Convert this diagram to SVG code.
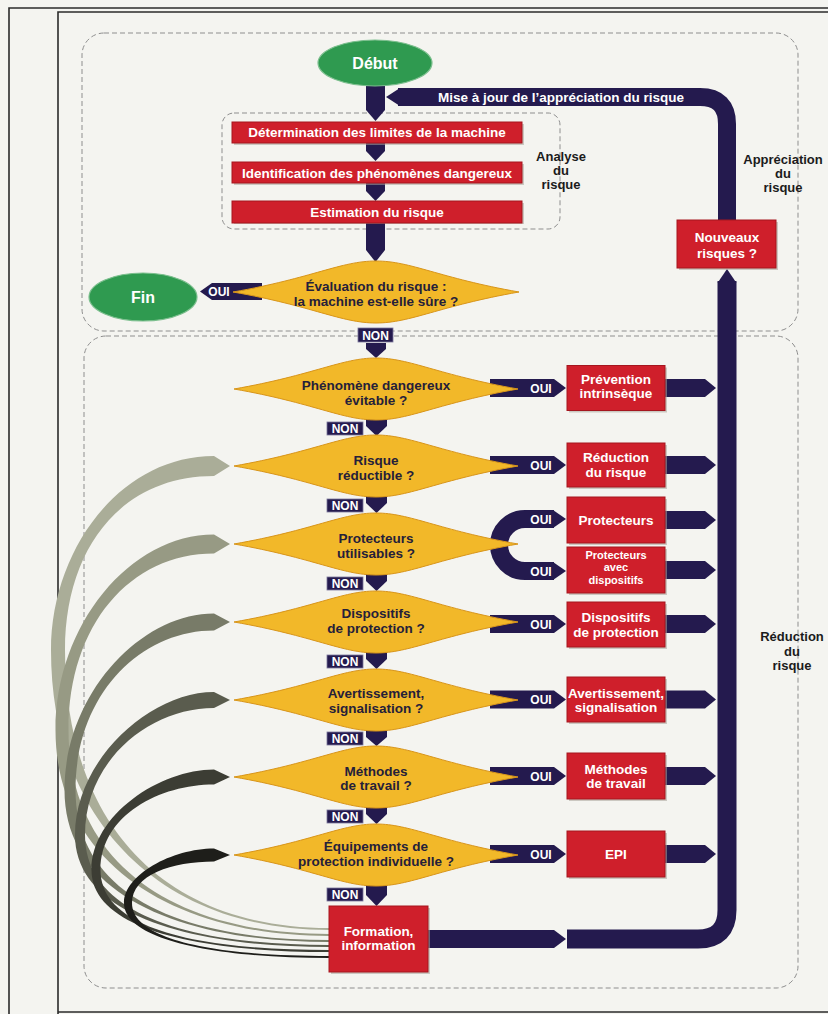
<svg xmlns="http://www.w3.org/2000/svg" width="828" height="1014" viewBox="0 0 828 1014">
<defs>
<style>
.bg{fill:#f4f4f0}
.frame{fill:none;stroke:#2b2b2b;stroke-width:1.6}
.dash{fill:none;stroke:#8e8e8e;stroke-width:1;stroke-dasharray:5 3}
.nv{fill:#241a4e}
.nvs{fill:none;stroke:#241a4e}
.rb{fill:#cf1f2b;stroke:#a5161f;stroke-width:1}
.sh{fill:#aaa49a;opacity:.55}
.dm{fill:#f2b829;stroke:#d8951b;stroke-width:1}
.gr{fill:#2f9a50;stroke:#7cbf8e;stroke-width:1.2}
.nonb{fill:#241a4e;stroke:#7c779c;stroke-width:.8}
text{font-family:"Liberation Sans",Arial,sans-serif;font-weight:bold;text-anchor:middle}
.tw{fill:#fff;font-size:13.5px}
.tw3{fill:#fff;font-size:11px}
.td{fill:#25203a;font-size:13.5px}
.tl{fill:#1b1b1b;font-size:13px}
.ts{fill:#fff;font-size:12px}
.tg{fill:#fff;font-size:16px}
</style>
</defs>
<rect class="bg" x="0" y="0" width="828" height="1014"/>
<path class="frame" d="M9,1014 V8 H828"/>
<path class="frame" d="M58,1014 V12 H828 M58,1012 H828"/>

<g id="zones">
<rect class="dash" x="82" y="33" width="716" height="298" rx="22"/>
<rect class="dash" x="84" y="336" width="714" height="652" rx="22"/>
<rect class="dash" x="222" y="113" width="338" height="116" rx="12"/>
<text class="tl" x="561" y="161">Analyse</text>
<text class="tl" x="561" y="175">du</text>
<text class="tl" x="561" y="189">risque</text>
<text class="tl" x="783" y="164">Appréciation</text>
<text class="tl" x="783" y="178">du</text>
<text class="tl" x="783" y="192">risque</text>
<text class="tl" x="792" y="641">Réduction</text>
<text class="tl" x="792" y="656">du</text>
<text class="tl" x="792" y="670">risque</text>
</g>

<g id="connectors">
<!-- return ribbons -->
<path fill="#aaad98" d="M214,456 C120,456 51,550 51,650 C51,820 160,930 329,930 L329,928 C160,928 65,820 65,650 C65,550 120,476 214,476 L230,466 Z"/>
<path fill="#979a84" d="M214,534.5 C130,534.5 55.5,625 55.5,730 C55.5,860 170,936 329,936 L329,934 C170,934 68.5,860 68.5,730 C68.5,625 130,553.5 214,553.5 L230,544 Z"/>
<path fill="#787b68" d="M214,613.5 C140,613.5 64.5,695 64.5,790 C64.5,895 180,942 329,942 L329,940 C180,940 75.5,895 75.5,790 C75.5,695 140,630.5 214,630.5 L230,622 Z"/>
<path fill="#5a5c4e" d="M214,692 C150,692 75,760 75,835 C75,915 190,947 329,947 L329,945 C190,945 85,915 85,835 C85,760 150,708 214,708 L230,700 Z"/>
<path fill="#3c3d34" d="M214,769.5 C160,769.5 91.5,815 91.5,870 C91.5,930 200,952 329,952 L329,950 C200,950 100.5,930 100.5,870 C100.5,815 160,784.5 214,784.5 L230,777 Z"/>
<path fill="#1e1e1a" d="M214,848.5 C172,848.5 124,875 124,903 C124,940 215,958 329,958 L329,956 C215,956 132,940 132,903 C132,875 172,861.5 214,861.5 L230,855 Z"/>

<!-- main flow -->
<path class="nv" d="M366,84 H385 V110 L375.5,121 L366,110 Z"/>
<path class="nv" d="M366,143 H385 V151 L375.5,161 L366,151 Z"/>
<path class="nv" d="M366,183 H385 V191 L375.5,201 L366,191 Z"/>
<path class="nv" d="M366,223 H385 V250 L375.5,262 L366,250 Z"/>
<path class="nv" d="M366,343 H386 V349 L376,358 L366,349 Z"/>
<path class="nv" d="M366,419 H387 V426 L376.5,436 L366,426 Z"/>
<path class="nv" d="M366,496 H387 V503 L376.5,513 L366,503 Z"/>
<path class="nv" d="M366,574 H387 V581 L376.5,591 L366,581 Z"/>
<path class="nv" d="M366,652 H387 V659 L376.5,669 L366,659 Z"/>
<path class="nv" d="M366,730 H387 V737 L376.5,746 L366,737 Z"/>
<path class="nv" d="M366,807 H387 V814 L376.5,824 L366,814 Z"/>
<path class="nv" d="M366,885 H387 V895 L376.5,906 L366,895 Z"/>

<!-- update loop -->
<path class="nvs" stroke-width="18" d="M398,97 H700 Q727,97 727,124 V221"/>
<path class="nv" d="M400,88 L386,97 L400,106 Z"/>
<path class="nvs" stroke-width="19" d="M727,281 V910 Q727,939 698,939 H567"/>
<path class="nv" d="M717.5,283 L727,269 L736.5,283 Z"/>
<path class="nv" d="M428,930 H554 L566,939 L554,948 H428 Z"/>
<text class="tw" x="561" y="101.5">Mise à jour de l’appréciation du risque</text>

<!-- OUI to Fin -->
<path class="nv" d="M262,283 H212 L200,291.5 L212,300 H262 Z"/>

<!-- OUI bars -->
<path class="nv" d="M490,379 H554 L566,388 L554,397 H490 Z"/>
<path class="nv" d="M490,456 H554 L566,465 L554,474 H490 Z"/>
<path class="nvs" stroke-width="18" d="M554,519 H525 A26,26 0 0 0 525,571 H554"/>
<path class="nv" d="M553,510 L566,519 L553,528 Z"/>
<path class="nv" d="M553,562 L566,571 L553,580 Z"/>
<path class="nv" d="M490,615 H554 L566,624 L554,633 H490 Z"/>
<path class="nv" d="M490,690.5 H554 L566,699.5 L554,708.5 H490 Z"/>
<path class="nv" d="M490,767 H554 L566,776 L554,785 H490 Z"/>
<path class="nv" d="M490,845 H554 L566,854 L554,863 H490 Z"/>

<!-- box to loop bar -->
<path class="nv" d="M664,379 H705 L716,388 L705,397 H664 Z"/>
<path class="nv" d="M664,456 H705 L716,465 L705,474 H664 Z"/>
<path class="nv" d="M664,511 H705 L716,520 L705,529 H664 Z"/>
<path class="nv" d="M664,561 H705 L716,570 L705,579 H664 Z"/>
<path class="nv" d="M664,615 H705 L716,624 L705,633 H664 Z"/>
<path class="nv" d="M664,690.5 H705 L716,699.5 L705,708.5 H664 Z"/>
<path class="nv" d="M664,767 H705 L716,776 L705,785 H664 Z"/>
<path class="nv" d="M664,845 H705 L716,854 L705,863 H664 Z"/>
</g>

<g id="n-debut">
<ellipse class="gr" cx="375" cy="63" rx="57" ry="23"/>
<text class="tg" x="375" y="68.5">Début</text>
</g>
<g id="n-fin">
<ellipse class="gr" cx="143" cy="297" rx="54" ry="24"/>
<text class="tg" x="143" y="302.5">Fin</text>
</g>

<g id="n-determination">
<rect class="sh" x="234" y="124" width="290" height="21"/>
<rect class="rb" x="232" y="122" width="290" height="21"/>
<text class="tw" x="377" y="137">Détermination des limites de la machine</text>
</g>
<g id="n-identification">
<rect class="sh" x="234" y="164" width="290" height="21"/>
<rect class="rb" x="232" y="162" width="290" height="21"/>
<text class="tw" x="377" y="177.5">Identification des phénomènes dangereux</text>
</g>
<g id="n-estimation">
<rect class="sh" x="234" y="203" width="290" height="21"/>
<rect class="rb" x="232" y="201" width="290" height="22"/>
<text class="tw" x="377" y="216.5">Estimation du risque</text>
</g>

<g id="n-evaluation">
<path class="dm" d="M233,292 C313,278 341,261 376,261 C411,261 439,278 519,292 C439,306 411,323 376,323 C341,323 313,306 233,292 Z"/>
<text class="td" x="376" y="291">Évaluation du risque :</text>
<text class="td" x="376" y="305.5">la machine est-elle sûre ?</text>
<rect class="nonb" x="358" y="328" width="35" height="14"/>
<text class="ts" x="375.5" y="339.5">NON</text>
<text class="ts" x="219" y="296">OUI</text>
</g>

<g id="n-nouveaux">
<rect class="sh" x="679" y="222" width="99" height="48"/>
<rect class="rb" x="677" y="220" width="99" height="48"/>
<text class="tw" x="727" y="241.5">Nouveaux</text>
<text class="tw" x="727" y="257.5">risques ?</text>
</g>

<g id="n-phenomene">
<path class="dm" d="M234,389 C314,375 342,358 376,358 C410,358 438,375 518,389 C438,403 410,420 376,420 C342,420 314,403 234,389 Z"/>
<text class="td" x="376" y="389.5">Phénomène dangereux</text>
<text class="td" x="376" y="404.5">évitable ?</text>
<rect class="nonb" x="327" y="422" width="36" height="13"/>
<text class="ts" x="345" y="432.5">NON</text>
<text class="ts" x="541" y="392.5">OUI</text>
</g>
<g id="n-risque">
<path class="dm" d="M234,466 C314,452 342,435 376,435 C410,435 438,452 518,466 C438,480 410,497 376,497 C342,497 314,480 234,466 Z"/>
<text class="td" x="376" y="464.5">Risque</text>
<text class="td" x="376" y="479.5">réductible ?</text>
<rect class="nonb" x="327" y="499" width="36" height="13"/>
<text class="ts" x="345" y="509.5">NON</text>
<text class="ts" x="541" y="469.5">OUI</text>
</g>
<g id="n-protecteurs-q">
<path class="dm" d="M234,544 C314,530 342,513 376,513 C410,513 438,530 518,544 C438,558 410,575 376,575 C342,575 314,558 234,544 Z"/>
<text class="td" x="376" y="542.5">Protecteurs</text>
<text class="td" x="376" y="557.5">utilisables ?</text>
<rect class="nonb" x="327" y="577" width="36" height="13"/>
<text class="ts" x="345" y="587.5">NON</text>
<text class="ts" x="541" y="523.5">OUI</text>
<text class="ts" x="541" y="575.5">OUI</text>
</g>
<g id="n-dispositifs-q">
<path class="dm" d="M234,622 C314,608 342,591 376,591 C410,591 438,608 518,622 C438,636 410,653 376,653 C342,653 314,636 234,622 Z"/>
<text class="td" x="376" y="617.5">Dispositifs</text>
<text class="td" x="376" y="632.5">de protection ?</text>
<rect class="nonb" x="327" y="655" width="36" height="13"/>
<text class="ts" x="345" y="665.5">NON</text>
<text class="ts" x="541" y="628.5">OUI</text>
</g>
<g id="n-avertissement-q">
<path class="dm" d="M234,700 C314,686 342,669 376,669 C410,669 438,686 518,700 C438,714 410,731 376,731 C342,731 314,714 234,700 Z"/>
<text class="td" x="376" y="697.5">Avertissement,</text>
<text class="td" x="376" y="712.5">signalisation ?</text>
<rect class="nonb" x="327" y="732" width="36" height="13"/>
<text class="ts" x="345" y="742.5">NON</text>
<text class="ts" x="541" y="704">OUI</text>
</g>
<g id="n-methodes-q">
<path class="dm" d="M234,777 C314,763 342,746 376,746 C410,746 438,763 518,777 C438,791 410,808 376,808 C342,808 314,791 234,777 Z"/>
<text class="td" x="376" y="775.5">Méthodes</text>
<text class="td" x="376" y="790">de travail ?</text>
<rect class="nonb" x="327" y="810" width="36" height="13"/>
<text class="ts" x="345" y="820.5">NON</text>
<text class="ts" x="541" y="780.5">OUI</text>
</g>
<g id="n-epi-q">
<path class="dm" d="M234,855 C314,841 342,824 376,824 C410,824 438,841 518,855 C438,869 410,886 376,886 C342,886 314,869 234,855 Z"/>
<text class="td" x="376" y="851">Équipements de</text>
<text class="td" x="376" y="866">protection individuelle ?</text>
<rect class="nonb" x="327" y="888" width="36" height="13"/>
<text class="ts" x="345" y="898.5">NON</text>
<text class="ts" x="541" y="858.5">OUI</text>
</g>

<g id="n-prevention">
<rect class="sh" x="569" y="367.5" width="98" height="45"/>
<rect class="rb" x="567" y="365.5" width="98" height="45"/>
<text class="tw" x="616" y="383.5">Prévention</text>
<text class="tw" x="616" y="397.5">intrinsèque</text>
</g>
<g id="n-reduction">
<rect class="sh" x="569" y="445" width="98" height="44"/>
<rect class="rb" x="567" y="443" width="98" height="44"/>
<text class="tw" x="616" y="461.5">Réduction</text>
<text class="tw" x="616" y="476.5">du risque</text>
</g>
<g id="n-protecteurs">
<rect class="sh" x="569" y="499" width="98" height="46"/>
<rect class="rb" x="567" y="497" width="98" height="46"/>
<text class="tw" x="616" y="524.5">Protecteurs</text>
</g>
<g id="n-protecteurs-dispositifs">
<rect class="sh" x="569" y="549" width="98" height="46"/>
<rect class="rb" x="567" y="547" width="98" height="46"/>
<text class="tw3" x="616" y="558.5">Protecteurs</text>
<text class="tw3" x="616" y="571">avec</text>
<text class="tw3" x="616" y="583.5">dispositifs</text>
</g>
<g id="n-dispositifs">
<rect class="sh" x="569" y="604" width="98" height="45"/>
<rect class="rb" x="567" y="602" width="98" height="45"/>
<text class="tw" x="616" y="621.5">Dispositifs</text>
<text class="tw" x="616" y="636.5">de protection</text>
</g>
<g id="n-avertissement">
<rect class="sh" x="569" y="679" width="98" height="45"/>
<rect class="rb" x="567" y="677" width="98" height="45"/>
<text class="tw" x="616" y="698" textLength="96" lengthAdjust="spacingAndGlyphs">Avertissement,</text>
<text class="tw" x="616" y="712">signalisation</text>
</g>
<g id="n-methodes">
<rect class="sh" x="569" y="755" width="98" height="46"/>
<rect class="rb" x="567" y="753" width="98" height="46"/>
<text class="tw" x="616" y="773.5">Méthodes</text>
<text class="tw" x="616" y="787.5">de travail</text>
</g>
<g id="n-epi">
<rect class="sh" x="569" y="833" width="98" height="46"/>
<rect class="rb" x="567" y="831" width="98" height="46"/>
<text class="tw" x="616" y="859">EPI</text>
</g>
<g id="n-formation">
<rect class="sh" x="331" y="908" width="99" height="66"/>
<rect class="rb" x="329" y="906" width="99" height="66"/>
<text class="tw" x="378.5" y="936">Formation,</text>
<text class="tw" x="378.5" y="950">information</text>
</g>
</svg>
